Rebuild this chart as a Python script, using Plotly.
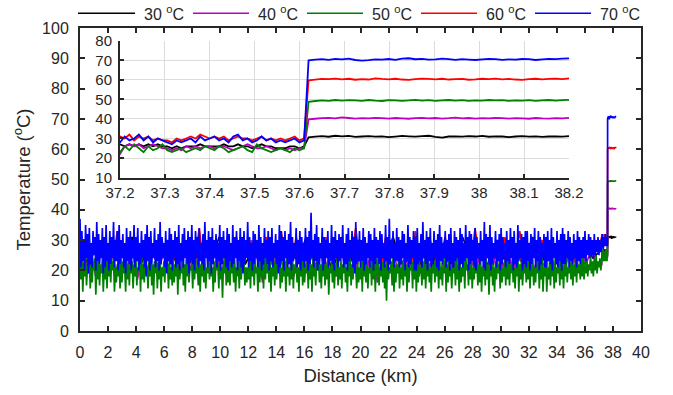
import numpy as np
import plotly.graph_objects as go

# ---------------- data (temperature readings along the fibre) ----------------
series_names = ["30 <sup>o</sup>C", "40 <sup>o</sup>C", "50 <sup>o</sup>C", "60 <sup>o</sup>C", "70 <sup>o</sup>C"]
series_colors = ["#000000", "#c000c0", "#008000", "#ff0000", "#0000ff"]

# long-fibre section 0 - 37.2 km
blue_long = [
    37,21,33,23,30,20,35,24,32,19,34,22,29,21,33,25,31,20,36,23,
    32,22,30,24,34,19,31,21,35,23,29,20,33,22,31,24,36,21,30,23,
    33,20,35,22,30,24,32,21,29,19,34,23,31,22,33,20,30,24,35,21,
    31,23,34,20,29,22,33,24,30,21,32,18,35,23,31,20,33,22,29,24,
    34,21,30,23,32,20,36,22,31,24,29,21,33,19,30,23,34,22,32,20,
    30,24,33,21,31,22,35,20,29,23,32,21,34,24,30,22,33,19,31,23,
    35,22,30,20,33,24,31,21,34,23,29,22,32,20,36,24,30,21,33,23,
    31,19,34,22,30,24,32,21,29,23,35,20,31,22,33,24,30,21,34,20,
    32,23,29,21,35,22,31,24,33,20,30,23,34,21,31,19,33,22,30,24,
    36,21,31,23,29,20,33,22,32,24,30,21,35,23,31,20,29,22,34,24,
    30,22,33,20,31,23,34,21,29,24,32,22,30,19,35,21,33,23,31,20,
    33,24,30,21,32,22,36,20,31,23,29,24,34,21,30,22,33,20,31,23,
    29,21,34,23,31,20,33,22,39,24,30,21,32,23,35,20,31,22,29,24,
    34,20,31,22,30,24,33,21,29,23,35,22,31,20,33,24,30,21,32,23,
    31,24,35,21,29,22,32,20,34,23,30,24,33,21,31,19,36,22,30,23,
    33,21,30,23,34,20,31,22,29,24,33,21,32,23,30,20,34,22,31,24,
    30,22,33,20,32,24,29,21,35,23,31,20,37,22,30,24,33,21,29,23,
    34,23,31,21,30,22,33,24,32,20,29,23,35,21,31,22,30,24,33,20,
    31,20,34,22,29,23,32,21,36,24,30,22,33,20,31,23,34,21,29,22,
    33,24,30,21,32,20,35,23,31,22,29,24,33,21,30,23,32,20,34,22,
    29,21,33,23,31,24,30,20,34,22,32,21,29,23,35,24,31,20,33,22,
    32,23,30,21,34,20,31,24,29,22,33,23,30,21,36,20,32,24,31,22,
    35,20,31,22,29,24,33,21,30,23,32,20,34,22,31,24,29,21,33,23,
    30,22,34,24,31,20,33,22,29,21,35,23,30,24,32,20,31,22,33,21,
    33,23,29,20,32,22,31,24,34,21,30,23,33,20,31,22,29,24,32,21,
    31,21,33,23,30,22,34,20,31,24,29,22,33,21,30,23,32,20,34,22,
    32,22,30,24,33,21,31,23,29,22,32,24,30,21,33,23,31,22,30,24,
    31,24,33,23,30,25,32,24,31,25,30,24,32,25,30,26,31,25,30,26,
]
green_long = [
    23,17,25,13,22,18,24,15,21,19,25,14,23,16,22,20,24,12,23,17,
    25,15,22,19,24,13,21,17,23,14,25,18,22,16,24,20,23,13,21,16,
    22,18,24,14,25,16,23,19,21,13,24,17,22,15,25,19,23,14,22,18,
    24,15,21,20,23,13,25,17,22,16,24,19,21,14,23,18,25,15,22,12,
    23,19,25,14,22,17,24,13,21,18,23,16,25,20,22,14,24,17,21,15,
    25,16,22,18,24,12,23,17,21,19,25,15,22,13,24,18,23,16,21,20,
    22,14,24,17,25,19,21,15,23,13,22,18,24,16,25,14,21,19,23,17,
    24,18,21,13,23,16,25,20,22,14,24,17,21,11,23,19,25,15,22,16,
    23,15,25,19,22,16,24,13,21,18,23,14,25,17,22,20,24,15,21,16,
    21,17,23,14,25,18,22,15,24,19,21,13,23,16,25,18,22,14,24,17,
    25,19,22,16,24,13,21,18,23,15,25,17,22,20,24,14,21,16,23,18,
    22,13,24,18,21,15,23,17,25,14,22,19,24,16,21,13,23,18,25,15,
    24,16,21,19,23,14,25,17,22,13,24,18,21,15,23,20,25,16,22,14,
    23,18,25,15,22,17,24,12,21,19,23,16,25,14,22,18,24,15,21,17,
    25,14,22,19,24,16,21,13,23,18,25,15,22,17,24,20,21,14,23,16,
    21,17,23,13,25,18,22,16,24,14,21,19,23,15,25,17,22,13,24,18,
    24,15,21,18,23,16,25,14,22,10,24,17,21,19,23,15,25,13,22,16,
    22,19,24,14,21,17,23,15,25,18,22,13,24,16,21,20,23,14,25,17,
    25,13,22,16,24,19,21,15,23,17,25,14,22,18,24,16,21,13,23,19,
    23,16,25,18,22,14,24,17,21,15,23,19,25,13,22,16,24,18,21,14,
    21,19,23,15,25,17,22,13,24,16,21,18,23,14,25,20,22,15,24,17,
    24,14,21,17,23,19,25,15,22,16,24,13,21,18,23,15,25,17,22,12,
    22,18,24,15,21,13,23,17,25,19,22,14,24,16,21,18,23,15,25,17,
    25,15,22,19,24,16,21,14,23,18,25,13,22,17,24,15,21,19,23,16,
    23,17,25,14,22,18,24,15,21,16,23,19,25,14,22,17,24,13,21,18,
    24,13,21,17,23,15,25,18,22,14,24,16,21,19,23,15,25,17,22,14,
    22,18,24,16,21,19,23,17,25,15,22,18,24,16,23,19,22,17,24,18,
    25,17,23,19,24,18,22,20,25,19,23,18,24,20,25,19,23,21,24,20,
]
red_long = [
    29,24,31,25,28,23,30,26,29,24,33,25,28,24,30,23,29,26,31,24,
    28,25,30,24,29,23,31,25,28,26,30,24,34,23,29,25,28,24,30,26,
    29,23,31,24,28,25,30,24,29,26,31,23,28,25,33,24,29,23,31,25,
    28,24,30,26,29,23,31,25,28,24,30,23,29,26,34,24,28,25,30,24,
    29,23,31,25,28,24,30,26,29,23,33,24,28,25,30,24,29,26,31,23,
    28,25,30,24,29,23,34,25,28,24,30,26,29,23,31,24,28,25,33,24,
    29,25,28,26,30,25,29,26,28,25,29,26,28,26,29,26,28,27,29,27,
]
magenta_long = [
    27,19,28,18,26,20,27,19,28,21,26,17,27,20,28,19,26,21,27,18,
    28,20,26,19,27,21,28,18,26,20,27,21,28,19,26,16,27,21,28,20,
    26,18,27,19,28,21,26,20,27,18,28,19,26,21,27,20,28,16,26,21,
    27,19,28,20,26,18,27,21,28,19,26,20,27,17,28,21,26,19,27,20,
    28,21,26,20,27,21,28,20,26,21,27,21,28,21,27,22,28,22,27,22,
]
black_long = [
    29,21,30,22,28,20,31,22,29,21,30,23,28,21,29,22,31,20,30,22,
    28,21,29,23,30,22,31,21,29,20,28,22,30,21,29,23,31,22,28,21,
    30,22,29,20,31,23,28,21,30,22,29,21,31,22,28,23,29,23,28,24,
]

# section 37.2 - 37.61 km (before heated zone)
blue_pre = [28,31,29,30,32,29,31,28,30,29,28,27,29,28,29,30,28,31,29,30,
            31,29,30,28,31,32,29,30,28,29,31,29,30,28,29,28,29,30,28,29]
red_pre = [31,30,32,29,31,30,31,29,30,29,29,28,30,29,30,31,30,32,31,30,
           31,30,31,29,30,31,30,30,29,30,31,29,30,29,30,29,30,31,29,30]
green_pre = [23,26,24,27,25,23,26,24,25,27,24,23,24,25,23,24,25,24,26,25,
             24,26,25,23,24,25,26,24,23,27,25,24,23,24,25,24,23,25,24,25]
magenta_pre = [22,26,27,26,27,25,26,27,26,25,25,24,25,24,26,25,26,25,26,26,
               25,26,26,25,24,25,26,27,26,25,25,26,25,24,25,24,25,24,25,25]
black_pre = [27,26,27,26,27,26,27,26,27,26,26,25,26,25,26,26,26,27,26,26,
             26,26,27,26,26,27,26,26,25,26,27,26,26,25,25,25,26,26,25,26]

# heated section 37.62 - 38.2 km
blue_hot = [70.0,70.4,70.6,70.3,70.8,70.5,70.9,70.2,69.9,70.1,70.5,70.4,70.7,70.3,70.9,71.1,70.6,70.8,70.4,70.5,
            70.9,70.7,70.3,70.6,70.4,70.2,70.5,70.8,70.6,70.3,70.5,70.4,70.7,70.6,70.2,70.5,70.8,70.6,70.9,71.0]
red_hot = [59.8,60.2,60.5,60.4,60.7,60.3,60.6,60.1,60.4,60.2,60.8,60.5,60.3,60.6,60.2,60.0,60.4,60.7,60.5,60.3,
           60.6,60.2,60.4,60.5,60.1,60.3,60.6,60.4,60.7,60.3,60.5,60.2,60.0,60.4,60.6,60.3,60.5,60.7,60.4,60.8]
green_hot = [48.8,49.2,49.5,49.3,49.7,49.4,49.6,49.5,49.3,49.7,49.4,49.2,49.6,49.5,49.3,49.5,49.8,49.4,49.6,49.3,
             49.5,49.7,49.4,49.6,49.3,49.5,49.4,49.7,49.5,49.6,49.3,49.5,49.4,49.6,49.3,49.5,49.7,49.4,49.6,49.8]
magenta_hot = [39.8,40.1,40.4,40.6,40.3,40.8,40.5,40.2,40.4,40.3,40.6,40.4,40.2,40.5,40.3,40.1,40.4,40.6,40.3,40.5,
               40.2,40.4,40.7,40.3,40.5,40.2,40.4,40.3,40.5,40.4,40.2,40.4,40.3,40.1,40.5,40.3,40.2,40.4,40.3,40.6]
black_hot = [30.6,31.0,31.2,30.9,31.4,31.1,31.3,30.8,31.0,31.2,30.9,31.1,30.7,31.0,31.3,31.1,30.9,31.2,31.4,30.8,
             30.4,31.0,31.1,30.9,31.2,31.0,31.3,30.9,31.1,31.0,30.7,31.0,31.2,30.9,31.1,30.8,31.0,31.1,30.9,31.2]

# section boundaries (km)
long_start, long_end = 0.0, 37.2
pre_end = 37.61
hot_start, hot_end = 37.62, 38.2

main_x_ticks = list(range(0, 41, 2))
main_y_ticks = list(range(0, 101, 10))
inset_x_ticks = [37.2, 37.3, 37.4, 37.5, 37.6, 37.7, 37.8, 37.9, 38.0, 38.1, 38.2]
inset_x_labels = ["37.2", "37.3", "37.4", "37.5", "37.6", "37.7", "37.8", "37.9", "38", "38.1", "38.2"]
inset_y_ticks = list(range(10, 81, 10))

raw = [
    (black_long, black_pre, black_hot),
    (magenta_long, magenta_pre, magenta_hot),
    (green_long, green_pre, green_hot),
    (red_long, red_pre, red_hot),
    (blue_long, blue_pre, blue_hot),
]


def build(long_v, pre_v, hot_v):
    x1 = np.linspace(long_start, long_end, len(long_v), endpoint=False)
    x2 = np.linspace(long_end, pre_end, len(pre_v))
    x3 = np.linspace(hot_start, hot_end, len(hot_v))
    return np.concatenate([x1, x2, x3]), np.array(long_v + pre_v + hot_v, dtype=float)


fig = go.Figure()
for name, col, (a, b, c) in zip(series_names, series_colors, raw):
    x, y = build(a, b, c)
    fig.add_trace(go.Scatter(x=x, y=y, mode="lines", name=name, showlegend=False,
                             line=dict(color=col, width=1.7, simplify=False),
                             xaxis="x", yaxis="y", hoverinfo="skip"))
for name, col, (a, b, c) in zip(series_names, series_colors, raw):
    x, y = build(a, b, c)
    fig.add_trace(go.Scatter(x=x, y=y, mode="lines", name=name, showlegend=False,
                             line=dict(color=col, width=1.8, simplify=False),
                             xaxis="x2", yaxis="y2", hoverinfo="skip"))

# ---------------- layout ----------------
W, H = 673, 395
ml, mr, mt, mb = 80, 32, 28, 61
pw, ph = W - ml - mr, H - mt - mb
axis_col = "#262626"
font_family = "Liberation Sans, Arial, sans-serif"


def px_x(p):
    return (p - ml) / pw


def px_y(p):
    return (H - mb - p) / ph


fig.update_layout(
    width=W, height=H,
    margin=dict(l=ml, r=mr, t=mt, b=mb),
    plot_bgcolor="white", paper_bgcolor="white",
    font=dict(family=font_family, color=axis_col, size=16),
    xaxis=dict(range=[0, 40], tickvals=main_x_ticks, ticks="inside", ticklen=5, tickwidth=1.5,
               tickcolor=axis_col, showline=True, linecolor=axis_col, linewidth=2, mirror="ticks",
               showgrid=False, zeroline=False, tickfont=dict(size=16), ticklabelstandoff=6,
               title=dict(text="Distance (km)", font=dict(size=18.5), standoff=9)),
    yaxis=dict(range=[0, 100], tickvals=main_y_ticks, ticks="inside", ticklen=5, tickwidth=1.5,
               tickcolor=axis_col, showline=True, linecolor=axis_col, linewidth=2, mirror="ticks",
               showgrid=False, zeroline=False, tickfont=dict(size=16), ticklabelstandoff=6,
               title=dict(text="Temperature (<sup>o</sup>C)", font=dict(size=18.5), standoff=7)),
    xaxis2=dict(domain=[px_x(120), px_x(569)], anchor="y2", range=[37.2, 38.2],
                tickvals=inset_x_ticks, ticktext=inset_x_labels, ticks="inside", ticklen=4,
                tickwidth=1.5, tickcolor=axis_col, showline=True, linecolor=axis_col, linewidth=2,
                showgrid=True, gridcolor="#dcdcdc", gridwidth=1, zeroline=False,
                tickfont=dict(size=15)),
    yaxis2=dict(domain=[px_y(179), px_y(41)], anchor="x2", range=[10, 80],
                tickvals=inset_y_ticks, ticks="inside", ticklen=4, tickwidth=1.5,
                tickcolor=axis_col, showline=True, linecolor=axis_col, linewidth=2,
                showgrid=True, gridcolor="#dcdcdc", gridwidth=1, zeroline=False,
                tickfont=dict(size=15), ticklabelstandoff=3),
)

# custom legend (long line samples) along the top
legend_line_px = [(78, 135), (193, 249), (307, 363), (421, 477), (535, 591)]
legend_y = px_y(13)
for (x0, x1), name, col in zip(legend_line_px, series_names, series_colors):
    fig.add_shape(type="line", xref="paper", yref="paper", x0=px_x(x0), x1=px_x(x1),
                  y0=legend_y, y1=legend_y, line=dict(color=col, width=1.5))
    fig.add_annotation(xref="paper", yref="paper", x=px_x(x1 + 7), y=legend_y, text=name,
                       showarrow=False, xanchor="left", yanchor="middle",
                       font=dict(size=16, color=axis_col))

fig.write_html("out.html")
